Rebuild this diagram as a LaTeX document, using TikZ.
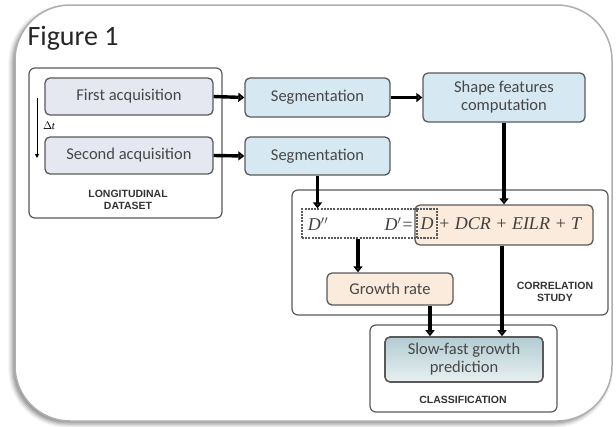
\documentclass[tikz,border=0pt]{standalone}
\usepackage{fontspec}
\setmainfont{Carlito}
\newfontfamily\formfont{Liberation Serif}
\newfontfamily\capfont{Liberation Sans}
\usetikzlibrary{arrows.meta,shadows.blur}

\definecolor{acqfill}{RGB}{229,232,241}
\definecolor{segfill}{RGB}{214,232,242}
\definecolor{peach}{RGB}{251,235,220}
\definecolor{predtop}{RGB}{178,204,210}
\definecolor{predbot}{RGB}{232,240,241}
\definecolor{boxline}{RGB}{90,90,90}
\definecolor{frameline}{RGB}{175,175,175}

\begin{document}
\begin{tikzpicture}[x=1pt,y=1pt,yscale=-1,
  box/.style={draw=boxline,line width=1.3pt,rounded corners=5pt,align=center,
    font=\fontsize{16.5}{18}\selectfont,text=black!72},
  group/.style={draw=boxline,line width=1.2pt,rounded corners=6pt},
  caption/.style={font=\capfont\fontsize{10.5}{12.5}\selectfont\bfseries,align=center,text=black!80},
  formula/.style={font=\formfont\itshape\fontsize{18}{20}\selectfont,text=black!75},
  flow/.style={line width=3.4pt,-{Triangle[length=6pt,width=9pt]}},
  dashbox/.style={draw=boxline,dash pattern=on 2pt off 1.2pt,line width=1.2pt,inner sep=0pt}]
\useasboundingbox (0,0) rectangle (616,426);

%Shape: outer frame
\draw[frameline,line width=1.5pt,fill=white,rounded corners=55pt,
  blur shadow={shadow xshift=-3pt,shadow yshift=-3pt,shadow blur radius=4pt,shadow opacity=45}]
  (15,5) rectangle (612,421);

% Text Node
\node[anchor=base west,font=\fontsize{28}{30}\selectfont,text=black!85] (title) at (24,45) {Figure 1};

%Shape: group frames
\draw[group] (29,68) rectangle (222,218);
\draw[group] (292,190) rectangle (608,315);
\draw[group] (370,325) rectangle (557,412);

%Acquisitions
\node[box,fill=acqfill,minimum width=168pt,minimum height=37pt] (acq1) at (129,96.5) {First acquisition};
\node[box,fill=acqfill,minimum width=168pt,minimum height=37pt] (acq2) at (129,155.5) {Second acquisition};
\coordinate (dt1) at (37,98);
\coordinate (dt2) at (37,158);
\draw[line width=1pt,-{Triangle[length=4pt,width=4pt]}] (dt1) -- (dt2);
\node[font=\formfont\itshape\fontsize{11}{12}\selectfont] (dt) at (49,126) {$\Delta$\kern-0.5pt t};
\node[caption] (longi) at (128,200) {LONGITUDINAL\\DATASET};

%Segmentation and features
\node[box,fill=segfill,minimum width=145pt,minimum height=39pt] (seg1) at (317.5,97.5) {Segmentation};
\node[box,fill=segfill,minimum width=145pt,minimum height=38pt] (seg2) at (317.5,156) {Segmentation};
\node[box,fill=segfill,minimum width=162pt,minimum height=49pt,inner sep=2pt] (shape) at (504,97.5) {Shape features\\computation};

%Correlation study
\node[box,fill=peach,minimum width=178pt,minimum height=40pt] (form) at (504,225) {};
\node[dashbox,minimum width=135pt,minimum height=29pt] (dbox) at (369.5,223.5) {};
\node[dashbox,minimum width=20pt,minimum height=29pt] (dd) at (427,223.5) {};
\node[formula] (d2) at (318,224) {D$^{\prime\prime}$};
\node[formula] (d1) at (399,224) {D$^{\prime}$=};
\node[formula] (dsym) at (dd) {D};
\node[formula,anchor=west,inner sep=0pt] (terms) at (438,224) {+ DCR + EILR + T};
\node[box,fill=peach,minimum width=126pt,minimum height=32pt] (growth) at (390,289) {Growth rate};
\node[caption] (corr) at (555,292) {CORRELATION\\STUDY};

%Classification
\node[box,line width=1.6pt,top color=predtop,bottom color=predbot,minimum width=158pt,minimum height=45pt,inner sep=2pt] (pred) at (464,359.5) {Slow-fast growth\\prediction};
\node[caption] (classif) at (463,400) {CLASSIFICATION};

%Arrows
\draw[flow] (acq1.east) -- (seg1.west);
\draw[flow] (seg1.east) -- (shape.west);
\draw[flow] (acq2.east) -- (seg2.west);
\draw[flow] (seg2.south) -- (seg2.south |- dbox.north);
\draw[flow] (shape.south) -- (shape.south |- form.north);
\draw[flow] ([xshift=-11.5pt]dbox.south) -- ([xshift=-11.5pt]dbox.south |- growth.north);
\draw[flow] ([xshift=-2pt]form.south) -- ([xshift=-2pt]form.south |- pred.north);
\draw[flow] ([xshift=40pt]growth.south) -- ([xshift=40pt]growth.south |- pred.north);

\end{tikzpicture}
\end{document}
